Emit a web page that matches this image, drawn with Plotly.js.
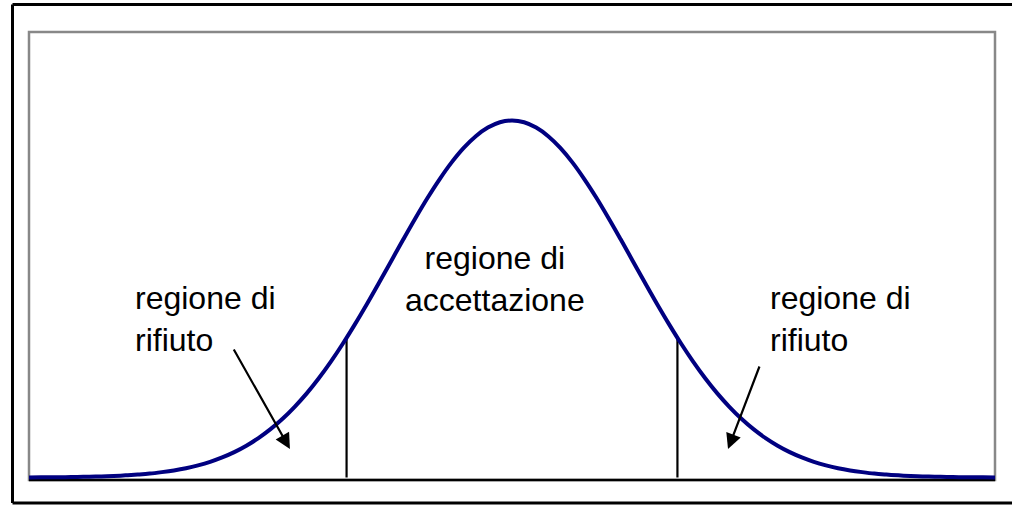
<!DOCTYPE html>
<html>
<head>
<meta charset="utf-8">
<script src="https://cdn.plot.ly/plotly-3.0.1.min.js"></script>
<style>
  html, body { margin: 0; padding: 0; background: #ffffff; overflow: hidden; }
  #chart { width: 1012px; height: 505px; }
</style>
</head>
<body>
<div id="chart"></div>
<script>
// z values along the horizontal axis
const zValues = [
  -4.0, -3.9, -3.8, -3.7, -3.6, -3.5, -3.4, -3.3, -3.2, -3.1,
  -3.0, -2.9, -2.8, -2.7, -2.6, -2.5, -2.4, -2.3, -2.2, -2.1,
  -2.0, -1.9, -1.8, -1.7, -1.6, -1.5, -1.4, -1.3, -1.2, -1.1,
  -1.0, -0.9, -0.8, -0.7, -0.6, -0.5, -0.4, -0.3, -0.2, -0.1,
   0.0,
   0.1,  0.2,  0.3,  0.4,  0.5,  0.6,  0.7,  0.8,  0.9,  1.0,
   1.1,  1.2,  1.3,  1.4,  1.5,  1.6,  1.7,  1.8,  1.9,  2.0,
   2.1,  2.2,  2.3,  2.4,  2.5,  2.6,  2.7,  2.8,  2.9,  3.0,
   3.1,  3.2,  3.3,  3.4,  3.5,  3.6,  3.7,  3.8,  3.9,  4.0
];
// density
const densityValues = [
  0.0001, 0.0002, 0.0003, 0.0004, 0.0006, 0.0009, 0.0012, 0.0017, 0.0024, 0.0033,
  0.0044, 0.0060, 0.0079, 0.0104, 0.0136, 0.0175, 0.0224, 0.0283, 0.0355, 0.0440,
  0.0540, 0.0656, 0.0790, 0.0940, 0.1109, 0.1295, 0.1497, 0.1714, 0.1942, 0.2179,
  0.2420, 0.2661, 0.2897, 0.3123, 0.3332, 0.3521, 0.3683, 0.3814, 0.3910, 0.3970,
  0.3989,
  0.3970, 0.3910, 0.3814, 0.3683, 0.3521, 0.3332, 0.3123, 0.2897, 0.2661, 0.2420,
  0.2179, 0.1942, 0.1714, 0.1497, 0.1295, 0.1109, 0.0940, 0.0790, 0.0656, 0.0540,
  0.0440, 0.0355, 0.0283, 0.0224, 0.0175, 0.0136, 0.0104, 0.0079, 0.0060, 0.0044,
  0.0033, 0.0024, 0.0017, 0.0012, 0.0009, 0.0006, 0.0004, 0.0003, 0.0002, 0.0001
];
// critical values and the curve height there
const criticalValues = [-1.37, 1.37];
const criticalHeights = [0.157, 0.157];

// labels
const labelTexts = ['regione di<br>rifiuto', 'regione di<br>accettazione', 'regione di<br>rifiuto'];
const labelX = [-3.14, -0.14, 2.12];
const labelY = [0.1775, 0.2216, 0.1775];
const labelAnchor = ['left', 'center', 'left'];
// arrows: tail -> head
const arrowTailX = [-2.311, 2.054];
const arrowTailY = [0.1447, 0.1257];
const arrowHeadX = [-1.839, 1.789];
const arrowHeadY = [0.0318, 0.0318];

const FONT = '"Liberation Sans", Arial, sans-serif';

const traces = [];
criticalValues.forEach((c, i) => {
  traces.push({
    x: [c, c], y: [0, criticalHeights[i]],
    mode: 'lines', type: 'scatter',
    line: { color: '#000000', width: 2.2 },
    hoverinfo: 'skip', showlegend: false
  });
});
traces.push({
  x: zValues, y: densityValues,
  mode: 'lines', type: 'scatter',
  line: { color: '#000080', width: 4, shape: 'spline' },
  showlegend: false
});

const annotations = [];
labelTexts.forEach((t, i) => {
  annotations.push({
    x: labelX[i], y: labelY[i], xref: 'x', yref: 'y',
    text: t, showarrow: false,
    xanchor: labelAnchor[i], yanchor: 'middle', align: labelAnchor[i],
    font: { family: FONT, size: 32, color: '#000000' }
  });
});
arrowTailX.forEach((tx, i) => {
  annotations.push({
    x: arrowHeadX[i], y: arrowHeadY[i], xref: 'x', yref: 'y',
    ax: tx, ay: arrowTailY[i], axref: 'x', ayref: 'y',
    text: '', showarrow: true,
    arrowhead: 2, arrowsize: 1.4, arrowwidth: 2.2, arrowcolor: '#000000'
  });
});

const ox0 = (12.5 - 29) / 966, ox1 = (1012 - 29) / 966;
const oyTop = (480 - 4.5) / 448, oyBot = (480 - 503) / 448;

const layout = {
  width: 1012, height: 505,
  margin: { l: 29, r: 17, t: 32, b: 25, pad: 0 },
  paper_bgcolor: '#ffffff', plot_bgcolor: '#ffffff',
  showlegend: false,
  xaxis: {
    range: [-4, 4], showgrid: false, zeroline: false,
    showticklabels: false, ticks: '', showline: false, fixedrange: true
  },
  yaxis: {
    range: [-0.0028, 0.4978], showgrid: false, zeroline: false,
    showticklabels: false, ticks: '', showline: false, fixedrange: true
  },
  shapes: [
    { type: 'rect', xref: 'paper', yref: 'paper', x0: 0, x1: 1, y0: 0, y1: 1,
      line: { color: '#888888', width: 2.5 }, layer: 'below' },
    { type: 'line', xref: 'paper', yref: 'paper', x0: 0, x1: 1, y0: 0, y1: 0,
      line: { color: '#000000', width: 2.5 }, layer: 'below' },
    { type: 'line', xref: 'paper', yref: 'paper', x0: ox0, x1: ox1, y0: oyTop, y1: oyTop,
      line: { color: '#000000', width: 3 } },
    { type: 'line', xref: 'paper', yref: 'paper', x0: ox0, x1: ox1, y0: oyBot, y1: oyBot,
      line: { color: '#000000', width: 3 } },
    { type: 'line', xref: 'paper', yref: 'paper', x0: ox0, x1: ox0, y0: oyBot, y1: oyTop,
      line: { color: '#000000', width: 3 } }
  ],
  annotations: annotations
};

Plotly.newPlot('chart', traces, layout, { displayModeBar: false, staticPlot: true });
</script>
</body>
</html>
